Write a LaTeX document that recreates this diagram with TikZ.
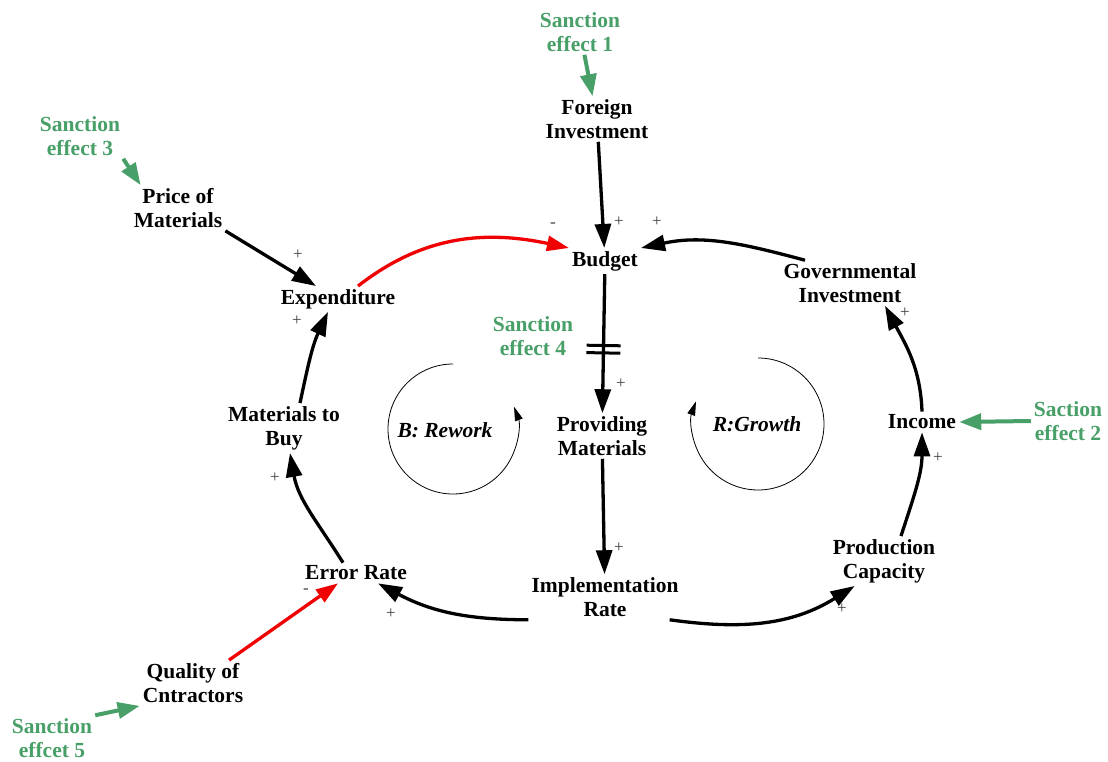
\documentclass[tikz,border=0pt]{standalone}
\usepackage{fontspec}
\setmainfont{Liberation Serif}
\usetikzlibrary{arrows.meta,decorations.markings}
\definecolor{sgreen}{RGB}{72,160,104}
\definecolor{sred}{RGB}{240,0,0}
\begin{document}
\begin{tikzpicture}[x=1pt,y=1pt,
 var/.style={font=\fontsize{21.5}{24}\selectfont\bfseries, align=center, inner sep=3pt, text=black},
 sanc/.style={var, text=sgreen},
 looplbl/.style={font=\fontsize{21.5}{24}\selectfont\bfseries\itshape, inner sep=0pt},
 pol/.style={font=\fontsize{17}{17}\selectfont, inner sep=0pt, text=black!75},
 link/.style={line width=3.3pt, -{Triangle[length=24pt,width=16pt]}},
 neg/.style={link, draw=sred, -{Triangle[length=22pt,width=15pt,fill=sred]}},
 sarr/.style={line width=4pt, draw=sgreen, -{Triangle[length=22pt,width=16pt,fill=sgreen]}},
 loopar/.style={line width=0.8pt, -{Triangle[length=14pt,width=8pt]}},
 delaymark/.style={postaction={decorate, decoration={markings,
   mark=at position #1 with {\draw[-, line width=3pt] (-3.7pt,-17pt) -- (-3.7pt,17pt) (3.7pt,-17pt) -- (3.7pt,17pt);}}}}
]
\useasboundingbox (0,0) rectangle (1108,-762);
\fill[white] (0,0) rectangle (1108,-762);

% variables
\node[sanc] (s1) at (580,-32) {Sanction\\effect 1};
\node[var] (fi) at (597,-119) {Foreign\\Investment};
\node[var] (bud) at (605,-261) {Budget};
\node[sanc] (s3) at (80,-136) {Sanction\\effect 3};
\node[var] (pom) at (178,-208) {Price of\\Materials};
\node[var] (exp) at (338,-299) {Expenditure};
\node[var] (gov) at (850,-283) {Governmental\\Investment};
\node[sanc] (s4) at (533,-336) {Sanction\\effect 4};
\node[var] (pm) at (602,-436) {Providing\\Materials};
\node[var] (mtb) at (284,-428) {Materials to\\Buy};
\node[var] (inc) at (922,-422) {Income};
\node[sanc] (s2) at (1068,-421) {Saction\\effect 2};
\node[var] (pc) at (884,-561) {Production\\Capacity};
\node[var] (er) at (356,-573) {Error Rate};
\node[var] (ir) at (605,-597) {Implementation\\Rate};
\node[var] (qc) at (193,-683) {Quality of\\Cntractors};
\node[sanc] (s5) at (52,-738) {Sanction\\effcet 5};

% loop labels
\node[looplbl] (lb) at (445,-430) {B: Rework};
\node[looplbl] (lr) at (757,-424) {R:Growth};
\draw[loopar] (lb) ++(8,66) arc[start angle=90, end angle=380, radius=65];
\draw[loopar] (lr) ++(1,66) arc[start angle=90, end angle=-200, radius=66];

% green sanction links
\draw[sarr] (s1) -- (fi);
\draw[sarr] (s3.south east) -- ([xshift=10pt]pom.north west);
\draw[sarr] (s2.west) -- (inc.east);
\draw[sarr] (s5.north east) -- (qc.south west);

% causal links
\draw[link] (fi) -- (bud);
\draw[neg] ([xshift=20pt]exp.north) to[out=38,in=168] (bud.north west);
\draw[link] ([xshift=-45pt]gov.north) to[out=165,in=12] (bud.north east);
\draw[link, delaymark=0.54] (bud) -- (pm);
\draw[link] (pm) -- (ir);
\draw[link] (ir.south west) to[out=180,in=-28] ([xshift=22pt]er.south);
\draw[link] ([xshift=-12pt]ir.south east) to[out=-8,in=212] ([xshift=25pt]pc.south west);
\draw[link] ([xshift=17pt]pc.north) to[out=72,in=-90] (inc.south);
\draw[link] (inc.north) to[out=92,in=-62] ([xshift=35pt]gov.south);
\draw[link] ([xshift=-13pt]er.north) to[out=122,in=-80] ([xshift=6pt]mtb.south);
\draw[link] ([xshift=16pt]mtb.north) to[out=78,in=-115] ([xshift=-10pt]exp.south);
\draw[link] (pom.south east) -- ([xshift=-22pt]exp.north);
\draw[neg] ([xshift=36pt]qc.north) -- ([xshift=-18pt]er.south);

% polarities
\node[pol] (p1) at (619,-222) {+};
\node[pol] (p2) at (657,-222) {+};
\node[pol] (p3) at (553,-225) {-};
\node[pol] (p4) at (298,-255) {+};
\node[pol] (p5) at (297,-321) {+};
\node[pol] (p6) at (621,-384) {+};
\node[pol] (p7) at (619,-548) {+};
\node[pol] (p8) at (905,-313) {+};
\node[pol] (p9) at (938,-458) {+};
\node[pol] (p10) at (842,-609) {+};
\node[pol] (p11) at (391,-614) {+};
\node[pol] (p12) at (306,-591) {-};
\node[pol] (p13) at (275,-478) {+};
\end{tikzpicture}
\end{document}
